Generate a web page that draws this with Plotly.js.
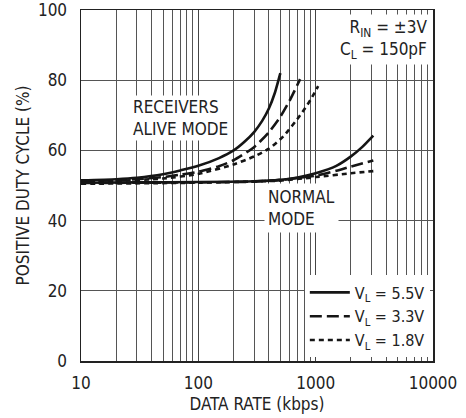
<!DOCTYPE html>
<html>
<head>
<meta charset="utf-8">
<script src="https://cdn.plot.ly/plotly-3.0.1.min.js"></script>
<style>html,body{margin:0;padding:0;background:#fff;}#chart{width:466px;height:418px;}</style>
</head>
<body>
<div id="chart"></div>
<script>
// Receivers alive mode
const aliveX55 = [10, 20, 30, 50, 70, 100, 150, 200, 250, 300, 350, 400, 450, 500];
const aliveY55 = [51.5, 51.8, 52.2, 53.2, 54.3, 55.6, 57.8, 60, 62.6, 65.3, 68.4, 72, 76.5, 82];
const aliveX33 = [10, 20, 30, 50, 70, 100, 150, 200, 300, 400, 500, 600, 737];
const aliveY33 = [51.3, 51.5, 51.8, 52.4, 53.1, 53.9, 55.5, 57.2, 61, 65.2, 69.6, 74.2, 80.3];
const aliveX18 = [10, 20, 50, 100, 200, 300, 400, 530, 737, 900, 1050];
const aliveY18 = [51, 51.3, 52, 53.3, 56, 58.3, 60.5, 64, 70, 74.3, 78.3];
// Normal mode
const normX55 = [10, 30, 100, 300, 500, 700, 1000, 1500, 2000, 2500, 3100];
const normY55 = [50.8, 50.9, 51, 51.2, 51.6, 52.3, 53.5, 55.6, 58.3, 61, 64.2];
const normX33 = [10, 100, 300, 500, 1000, 1500, 2000, 3100];
const normY33 = [50.7, 50.9, 51.1, 51.6, 52.8, 54.2, 55.4, 57.1];
const normX18 = [10, 100, 500, 1000, 2000, 3100];
const normY18 = [50.5, 50.8, 51.4, 52.4, 53.5, 54.1];

const seriesNames = ['V<sub>L</sub> = 5.5V', 'V<sub>L</sub> = 3.3V', 'V<sub>L</sub> = 1.8V'];
const xTickVals = [10, 100, 1000, 10000];
const xTickText = ['10', '100', '1000', '10000'];
const xMinorVals = [20,30,40,50,60,70,80,90,200,300,400,500,600,700,800,900,2000,3000,4000,5000,6000,7000,8000,9000];
const yTickVals = [0, 20, 40, 60, 80, 100];

const FONT = '"DejaVu Sans Condensed", "Liberation Sans Narrow", "Liberation Sans", Arial, sans-serif';
const INK = '#151515';
const TXT = '#222';
const FS = 17;
const dashes = ['solid', '12px,5px', '5px,4px'];

function tr(x, y, i, show) {
  return {
    x: x, y: y, type: 'scatter', mode: 'lines',
    name: seriesNames[i], legendgroup: 'g' + i, showlegend: show,
    line: {color: INK, width: 2.6, dash: dashes[i], shape: 'spline', smoothing: 0.6},
    hoverinfo: 'skip'
  };
}

const data = [
  tr(aliveX55, aliveY55, 0, true),
  tr(aliveX33, aliveY33, 1, true),
  tr(aliveX18, aliveY18, 2, true),
  tr(normX55, normY55, 0, false),
  tr(normX33, normY33, 1, false),
  tr(normX18, normY18, 2, false)
];

const layout = {
  width: 466, height: 418,
  margin: {l: 81, r: 33, t: 10, b: 57},
  paper_bgcolor: '#fff', plot_bgcolor: '#fff',
  font: {family: FONT, size: FS, color: TXT},
  showlegend: true,
  legend: {
    x: 0.991, y: 0.01, xanchor: 'right', yanchor: 'bottom',
    bgcolor: '#fff', borderwidth: 0,
    font: {family: FONT, size: 16, color: TXT},
    tracegroupgap: 0, itemwidth: 40
  },
  xaxis: {
    type: 'log', range: [1, 4],
    tickmode: 'array', tickvals: xTickVals, ticktext: xTickText,
    minor: {tickmode: 'array', tickvals: xMinorVals, showgrid: true, gridcolor: '#555', gridwidth: 1, ticks: ''},
    showgrid: true, gridcolor: '#444', gridwidth: 1,
    ticks: '', ticklabelstandoff: 6, ticklabeloverflow: 'allow',
    showline: true, linecolor: '#222', linewidth: 1.5, mirror: true,
    zeroline: false,
    title: {text: 'DATA RATE (kbps)', font: {family: FONT, size: FS, color: TXT}, standoff: 6},
    tickfont: {family: FONT, size: FS, color: TXT}
  },
  yaxis: {
    range: [0, 100],
    tickmode: 'array', tickvals: yTickVals,
    showgrid: true, gridcolor: '#555', gridwidth: 1,
    ticks: '', ticklabelstandoff: 9, ticklabeloverflow: 'allow',
    showline: true, linecolor: '#222', linewidth: 1.5, mirror: true,
    zeroline: false,
    title: {text: 'POSITIVE DUTY CYCLE (%)', font: {family: FONT, size: FS, color: TXT}, standoff: 4},
    tickfont: {family: FONT, size: FS, color: TXT}
  },
  annotations: [
    {
      x: Math.log10(26.5), y: 69.2, xref: 'x', yref: 'y',
      text: 'RECEIVERS<br>ALIVE MODE', showarrow: false,
      xanchor: 'left', yanchor: 'middle', align: 'left',
      bgcolor: '#fff', borderpad: 1,
      font: {family: FONT, size: FS, color: TXT}
    },
    {
      x: Math.log10(360), y: 43.5, xref: 'x', yref: 'y',
      text: 'NORMAL<br>MODE', showarrow: false,
      xanchor: 'left', yanchor: 'middle', align: 'left',
      bgcolor: '#fff', borderpad: 3,
      font: {family: FONT, size: FS, color: TXT}
    },
    {
      x: 0.991, y: 0.99, xref: 'paper', yref: 'paper',
      text: 'R<sub>IN</sub> = ±3V<br>C<sub>L</sub> = 150pF', showarrow: false,
      xanchor: 'right', yanchor: 'top', align: 'right',
      bgcolor: '#fff', borderpad: 2,
      font: {family: FONT, size: FS, color: TXT}
    }
  ]
};

Plotly.newPlot('chart', data, layout, {staticPlot: true, displayModeBar: false});
</script>
</body>
</html>
